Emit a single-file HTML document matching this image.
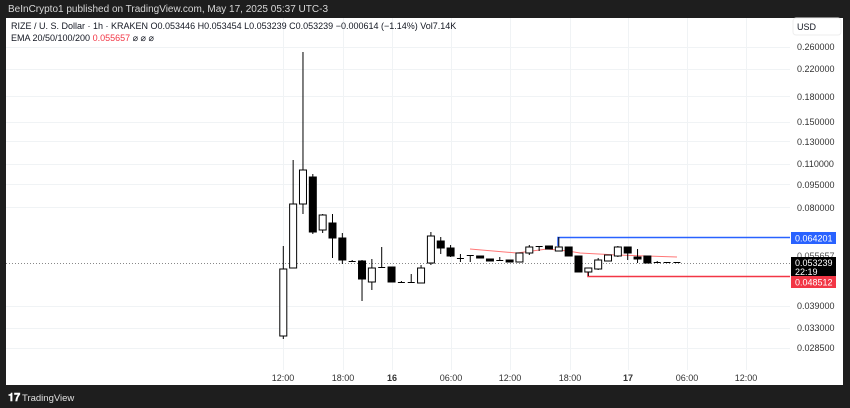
<!DOCTYPE html>
<html><head><meta charset="utf-8"><style>
html,body{margin:0;padding:0;background:#1e1e1e;width:850px;height:408px;overflow:hidden;font-family:"Liberation Sans",sans-serif}
svg{position:absolute;left:0;top:0}
</style></head><body>
<svg id="s" width="850" height="408" xmlns="http://www.w3.org/2000/svg" font-family="Liberation Sans, sans-serif">
<rect x="0" y="0" width="850" height="408" fill="#1e1e1e"/>
<text x="8" y="12" font-size="10" fill="#d8d8d8">BeInCrypto1 published on TradingView.com, May 17, 2025 05:37 UTC-3</text>
<rect x="6" y="18" width="837" height="367" fill="#fff"/>
<g id="grid" stroke="#f0f3f5" stroke-width="1"></g>
<line x1="6" y1="263.5" x2="790" y2="263.5" stroke="#888" stroke-dasharray="1,2"/>
<polyline points="470,249 517,253 547,249 568,251 580,253 617,255 677,257" fill="none" stroke="#f77" stroke-width="1"/>
<polyline points="558,246 558,237.5 790,237.5" fill="none" stroke="#2962ff" stroke-width="1.5"/>
<polyline points="588,268 588,276.5 790,276.5" fill="none" stroke="#f23645" stroke-width="1.5"/>
<g id="c"></g>
<text x="11" y="29" font-size="9" fill="#131722">RIZE / U. S. Dollar · 1h · KRAKEN  O0.053446  H0.053454  L0.053239  C0.053239  −0.000614 (−1.14%)  Vol7.14K</text>
<text x="11" y="41" font-size="9" fill="#131722">EMA 20/50/100/200 <tspan fill="#f23645">0.055657</tspan> ⌀ ⌀ ⌀</text>
<rect x="793" y="18" width="48" height="17" rx="3" fill="#fff" stroke="#eee"/>
<text x="797" y="30" font-size="9" fill="#131722">USD</text>
<g font-size="9" fill="#333">
<text x="797" y="50">0.260000</text>
<text x="797" y="72">0.220000</text>
<text x="797" y="100">0.180000</text>
<text x="797" y="125">0.150000</text>
<text x="797" y="145">0.130000</text>
<text x="797" y="167">0.110000</text>
<text x="797" y="188">0.095000</text>
<text x="797" y="211">0.080000</text>
<text x="797" y="309">0.039000</text>
<text x="797" y="331">0.033000</text>
<text x="797" y="351">0.028500</text>
<text x="797" y="259" fill="#555">0.055657</text>
</g>
<rect x="791" y="232" width="45" height="12" fill="#2962ff"/>
<text x="795" y="241.5" font-size="9" fill="#fff">0.064201</text>
<rect x="791" y="257" width="45" height="20" fill="#000"/>
<text x="795" y="266" font-size="9" fill="#fff">0.053239</text>
<text x="795" y="275" font-size="9" fill="#fff">22:19</text>
<rect x="791" y="276" width="45" height="12" fill="#f23645"/>
<text x="795" y="285.5" font-size="9" fill="#fff">0.048512</text>
<g font-size="9" fill="#333" text-anchor="middle">
<text x="283" y="381">12:00</text>
<text x="343" y="381">18:00</text>
<text x="392" y="381" font-weight="bold">16</text>
<text x="451" y="381">06:00</text>
<text x="510" y="381">12:00</text>
<text x="570" y="381">18:00</text>
<text x="628" y="381" font-weight="bold">17</text>
<text x="687" y="381">06:00</text>
<text x="746" y="381">12:00</text>
</g>
<text x="8" y="401" font-size="11" fill="#fff" font-weight="bold">𝟏𝟕</text>
<text x="22" y="401" font-size="9.5" fill="#e0e0e0">TradingView</text>
</svg>
<script>
var ns="http://www.w3.org/2000/svg";
function el(p,t,a){var e=document.createElementNS(ns,t);for(var k in a)e.setAttribute(k,a[k]);p.appendChild(e);return e;}
var g=document.getElementById('grid');
[47,69,96,122,141,164,184,207,306,328,348].forEach(function(y){el(g,'line',{x1:6,x2:790,y1:y+.5,y2:y+.5});});
[283,343,392,451,510,570,628,687,746].forEach(function(x){el(g,'line',{x1:x+.5,x2:x+.5,y1:18,y2:370});});
// [type, bodyTop, bodyBot, wickTop, wickBot]
var d=[
['W',269,336,246,339],['W',204,268,160,268],['W',170,204,52,214],['B',177,232,174,234],
['W',215,230,214,233],['B',223,238,214,258],['B',238,260,233,264],['D',261,261,260,262],
['B',261,279,260,301],['W',268,282,259,290],['D',267,267,247,267],['B',267,282,267,282],
['D',282,282,281,283],['D',282,282,274,282],['W',268,283,265,283],['W',236,263,232,265],
['B',241,248,237,254],['B',248,256,245,257],['D',258,258,254,262],['D',255,255,255,262],
['B',256,258,256,258],['B',259,261,259,261],['D',260,260,257,260],['B',260,262,260,262],
['W',253,262,253,262],['W',247,253,245,255],['D',246,246,246,251],['B',246,249,246,249],
['W',247,251,237,251],['B',247,256,247,256],['B',256,272,256,272],['W',268,272,268,276],
['W',260,269,258,270],['W',255,261,255,261],['W',247,256,246,257],['B',247,253,247,260],
['B',257,259,249,263],['B',256,263,256,263],['D',262,262,261,263],['D',262,262,262,262],['D',262,262,262,263]];
var c=document.getElementById('c');
d.forEach(function(r,i){
 var x=283.3+9.84*i;
 el(c,'line',{x1:x,x2:x,y1:r[3],y2:r[4],stroke:'#000','stroke-width':1});
 if(r[0]=='D'){el(c,'line',{x1:x-3.5,x2:x+3.5,y1:r[1]+.5,y2:r[1]+.5,stroke:'#000','stroke-width':1});}
 else{var h=Math.max(r[2]-r[1],1.5);
 el(c,'rect',{x:x-3.5,y:r[1],width:7,height:h,fill:r[0]=='B'?'#000':'#fff',stroke:'#000','stroke-width':1});}
});
</script>
</body></html>
